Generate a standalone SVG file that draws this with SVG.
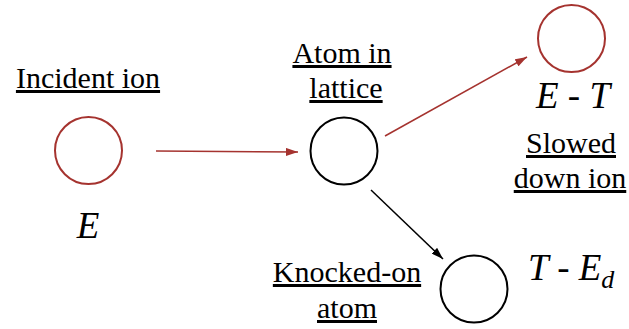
<svg xmlns="http://www.w3.org/2000/svg" width="629" height="329" viewBox="0 0 629 329">
<defs>
<marker id="ar" viewBox="0 0 12 8" refX="12" refY="4" markerWidth="12" markerHeight="8" markerUnits="userSpaceOnUse" orient="auto">
<path d="M0,0 L12,4 L0,8 Z" fill="#A5332F"/>
</marker>
<marker id="ab" viewBox="0 0 12 8" refX="12" refY="4" markerWidth="12" markerHeight="8" markerUnits="userSpaceOnUse" orient="auto">
<path d="M0,0 L12,4 L0,8 Z" fill="#000"/>
</marker>
</defs>
<g id="connectors">
<line x1="156" y1="151" x2="298" y2="152" stroke="#A5332F" stroke-width="1.5" marker-end="url(#ar)"/>
<line x1="385" y1="136" x2="527" y2="57" stroke="#A5332F" stroke-width="1.5" marker-end="url(#ar)"/>
<line x1="371" y1="190" x2="443" y2="259" stroke="#000" stroke-width="1.5" marker-end="url(#ab)"/>
</g>
<g id="incident-ion">
<circle cx="88.5" cy="150.5" r="33.5" fill="none" stroke="#A5332F" stroke-width="2"/>
<text x="88" y="88" font-family="Liberation Serif" font-size="30" text-anchor="middle" text-decoration="underline">Incident ion</text>
<text x="88" y="238" font-family="Liberation Serif" font-size="37" font-style="italic" text-anchor="middle">E</text>
</g>
<g id="atom-in-lattice">
<circle cx="344" cy="151" r="33.5" fill="none" stroke="#000" stroke-width="2"/>
<text x="342" y="63" font-family="Liberation Serif" font-size="30" text-anchor="middle" text-decoration="underline">Atom in</text>
<text x="346" y="98" font-family="Liberation Serif" font-size="30" text-anchor="middle" text-decoration="underline">lattice</text>
</g>
<g id="slowed-down-ion">
<circle cx="571.5" cy="38.5" r="33.5" fill="none" stroke="#A5332F" stroke-width="2"/>
<text x="573" y="108" font-family="Liberation Serif" font-size="37" font-style="italic" text-anchor="middle">E - T</text>
<text x="571" y="153" font-family="Liberation Serif" font-size="30" text-anchor="middle" text-decoration="underline">Slowed</text>
<text x="570" y="188" font-family="Liberation Serif" font-size="30" text-anchor="middle" text-decoration="underline">down ion</text>
</g>
<g id="knocked-on-atom">
<circle cx="474" cy="289" r="33.5" fill="none" stroke="#000" stroke-width="2"/>
<text x="347" y="282" font-family="Liberation Serif" font-size="30" text-anchor="middle" text-decoration="underline">Knocked-on</text>
<text x="347" y="318" font-family="Liberation Serif" font-size="30" text-anchor="middle" text-decoration="underline">atom</text>
<text x="528" y="280" font-family="Liberation Serif" font-size="37" font-style="italic">T - E<tspan font-size="26" dy="8">d</tspan></text>
</g>
</svg>
